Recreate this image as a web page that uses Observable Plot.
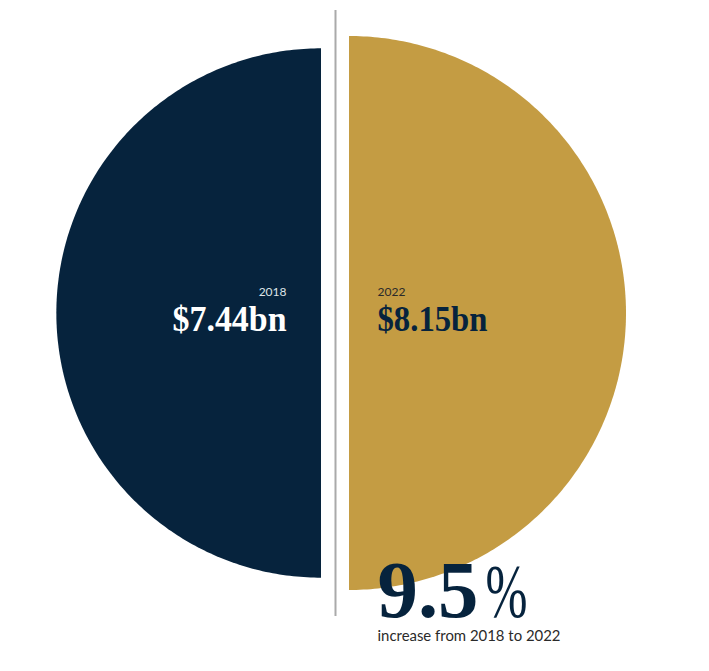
<!DOCTYPE html>
<html>
<head>
<meta charset="utf-8">
<script src="https://cdn.jsdelivr.net/npm/d3@7"></script>
<script src="https://cdn.jsdelivr.net/npm/@observablehq/plot@0.6"></script>
<style>
  html, body { margin: 0; padding: 0; background: #fff; }
  #chart { width: 709px; height: 671px; }
</style>
</head>
<body>
<div id="chart"></div>
<script>
// ---- data ----
const years = ["2018", "2022"];
const values = [7.44, 8.15];            // $bn
const subtitle = "increase from 2018 to 2022";

// ---- styles / layout ----
const W = 709, H = 671;
const cx = 335, cy = 313, R = 277, gap = 14;
const fills = ["#06233d", "#c49c43"];
const navy = "#06233d";
const serif = "'Liberation Serif', 'Times New Roman', serif";
const sans = "Lato, 'Open Sans', sans-serif";

// radius proportional to sqrt(value) -> area-proportional half discs
const rad = d3.scaleSqrt().domain([0, d3.max(values)]).range([0, R]);

const N = 240;
const halves = years.flatMap((year, i) => {
  const side = i === 0 ? -1 : 1;
  const r = rad(values[i]);
  return d3.range(N + 1).map(k => {
    const th = -Math.PI / 2 + Math.PI * k / N;
    return {
      year,
      y: cy + r * Math.sin(th),
      x1: cx + side * gap,
      x2: cx + side * (gap + r * Math.cos(th))
    };
  });
});

const fmt = v => `$${v.toFixed(2)}bn`;
const pct = ((values[1] / values[0] - 1) * 100).toFixed(1);

const labels = [
  {t: years[0], x: cx - 49, y: 295, anchor: "end", fill: "#dfe3e8", size: 12, font: sans, weight: "normal", len: null},
  {t: fmt(values[0]), x: cx - 49, y: 330, anchor: "end", fill: "#ffffff", size: 35, font: serif, weight: "bold", len: 114},
  {t: years[1], x: cx + 42, y: 295, anchor: "start", fill: "#2a2a2a", size: 12, font: sans, weight: "normal", len: null},
  {t: fmt(values[1]), x: cx + 42, y: 330, anchor: "start", fill: navy, size: 35, font: serif, weight: "bold", len: 110},
  {t: pct, x: cx + 42, y: 616, anchor: "start", fill: navy, size: 80, font: serif, weight: "bold", len: 101},
  {t: "%", x: cx + 150, y: 616, anchor: "start", fill: navy, size: 76, font: serif, weight: "normal", len: 42},
  {t: subtitle, x: cx + 42, y: 640, anchor: "start", fill: "#2a2a2a", size: 14.5, font: sans, weight: "normal", len: 183}
];

const plot = Plot.plot({
  width: W,
  height: H,
  margin: 0,
  x: {domain: [0, W], range: [0, W], axis: null},
  y: {domain: [0, H], range: [0, H], axis: null},
  marks: [
    Plot.areaX(halves, {
      y: "y", x1: "x1", x2: "x2", z: "year",
      fill: d => fills[years.indexOf(d.year)],
      curve: "linear"
    }),
    Plot.ruleX([cx], {y1: 10, y2: 616, stroke: "#aaaaaa", strokeWidth: 2}),
    ...labels.map(l => Plot.text([l], {
      x: "x", y: "y", text: "t",
      textAnchor: l.anchor, lineAnchor: "bottom",
      fill: l.fill, fontSize: l.size, fontFamily: l.font, fontWeight: l.weight
    }))
  ]
});

document.getElementById("chart").appendChild(plot);

// fit glyph widths to the reference widths
d3.select(plot).selectAll("text").each(function () {
  const l = labels.find(l => l.t === this.textContent);
  if (l && l.len) {
    d3.select(this).attr("textLength", l.len).attr("lengthAdjust", "spacingAndGlyphs");
  }
});
</script>
</body>
</html>
